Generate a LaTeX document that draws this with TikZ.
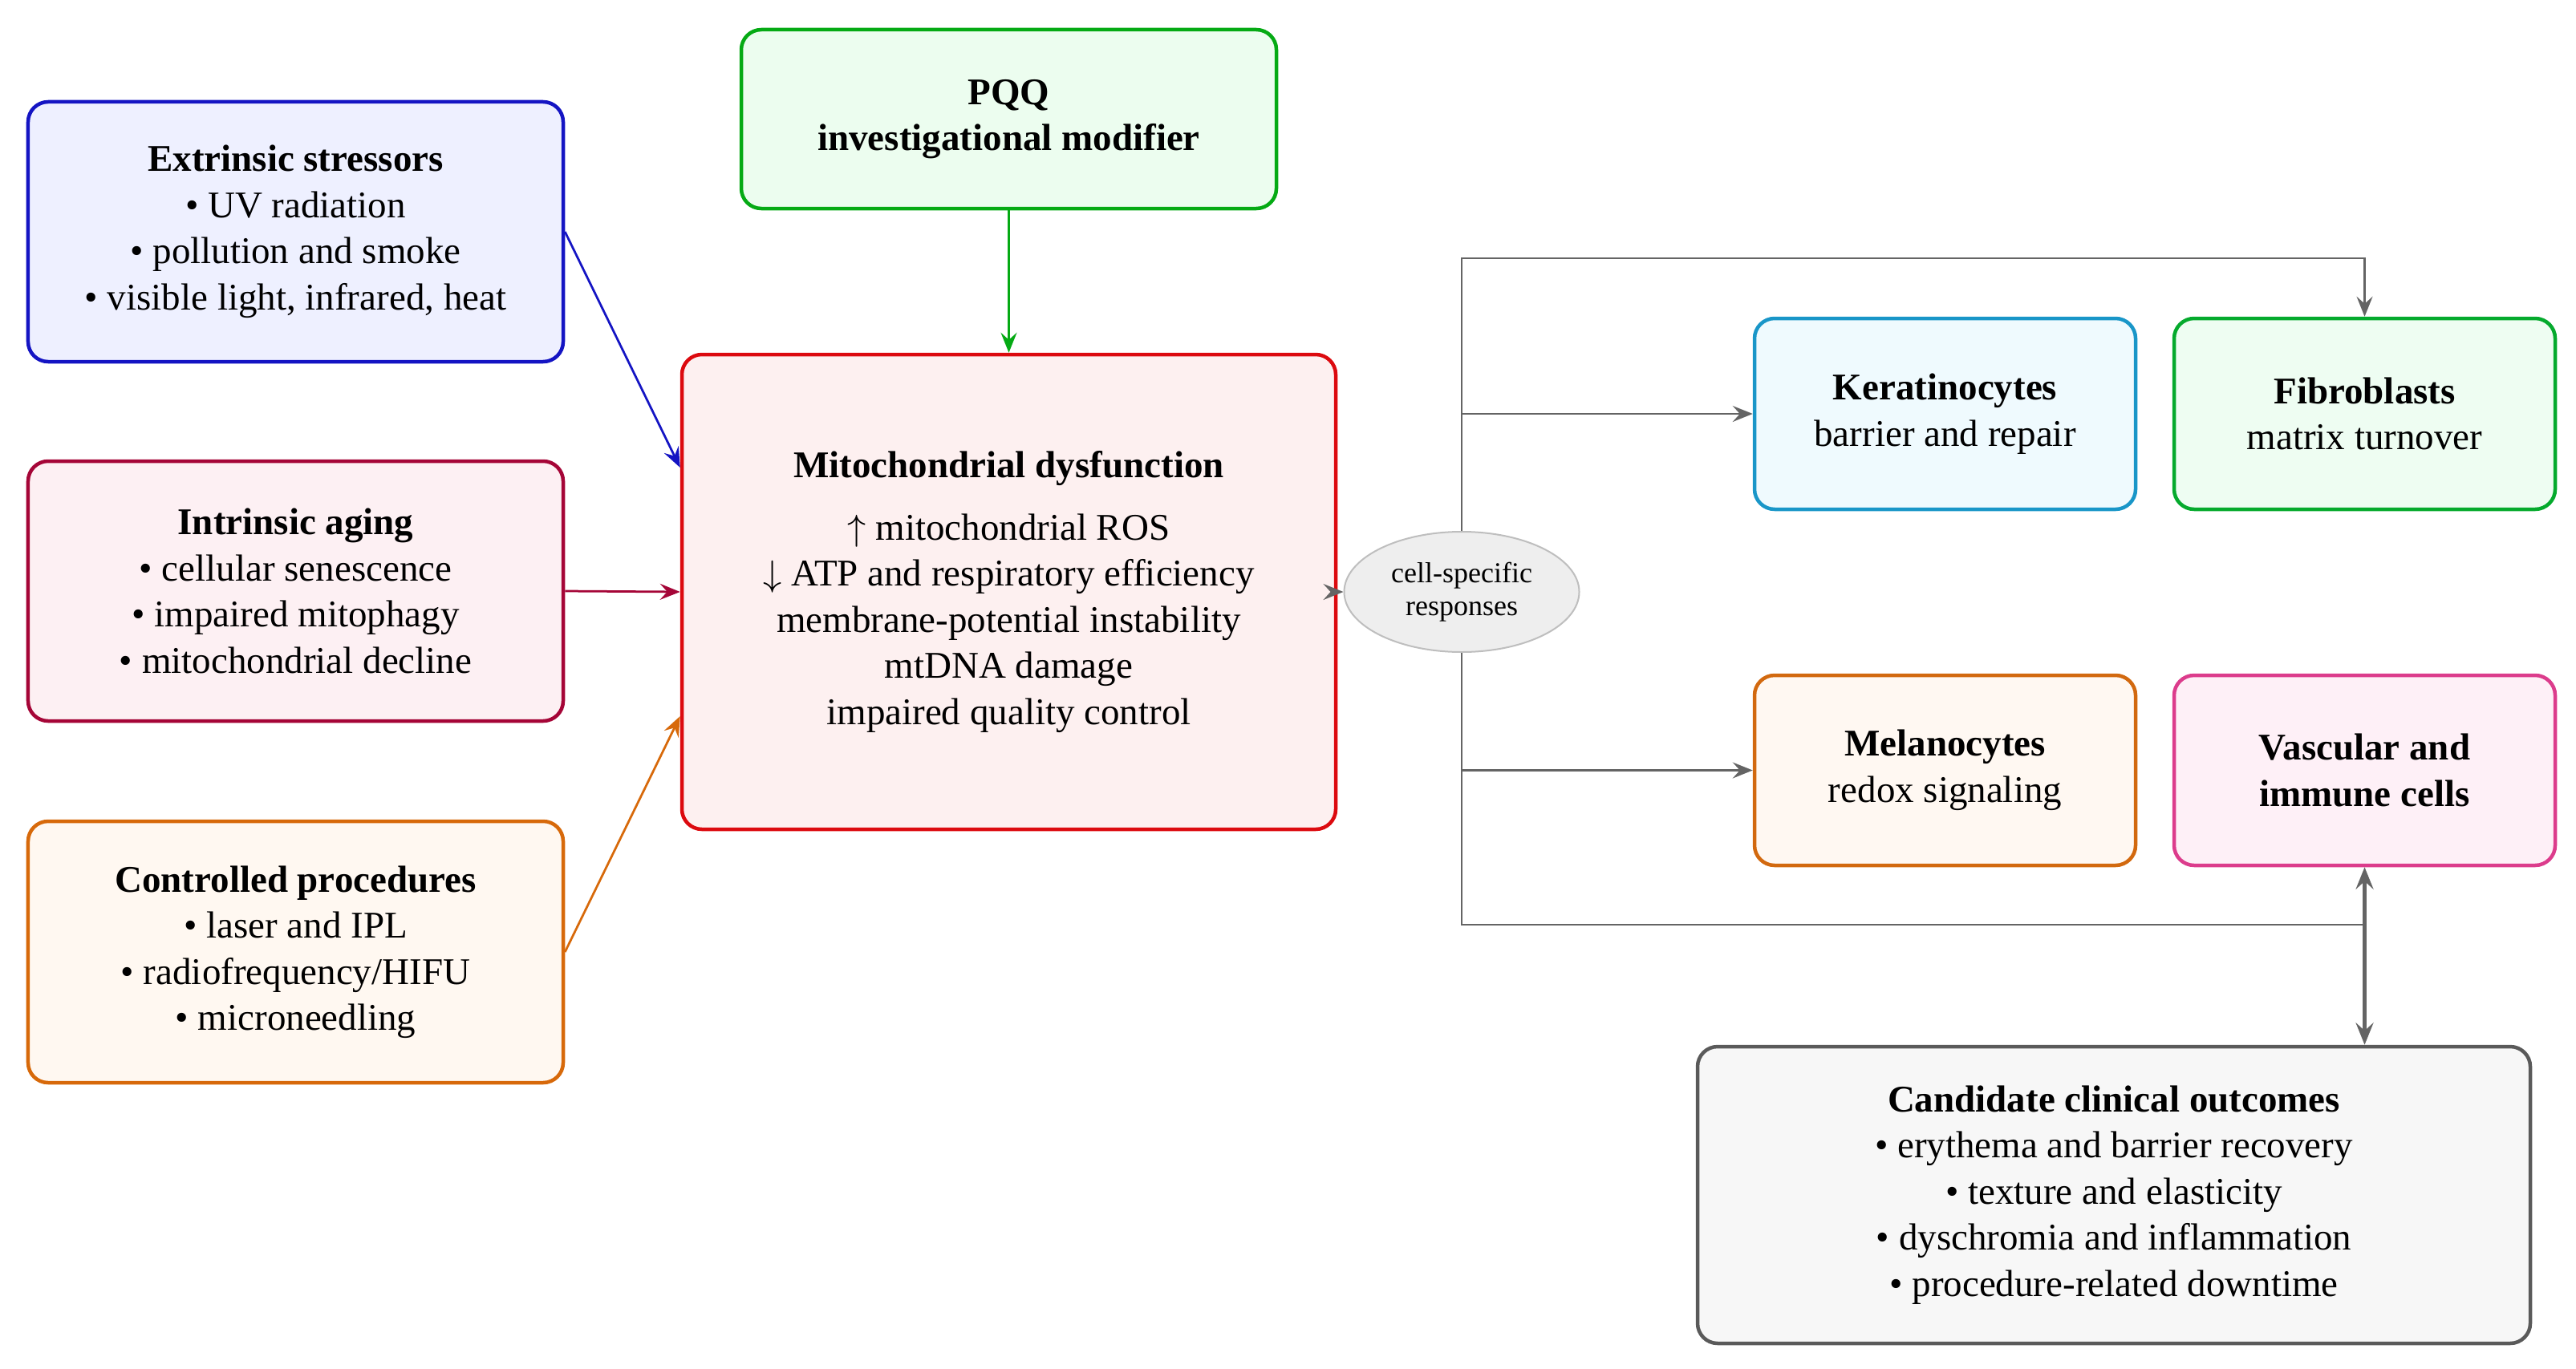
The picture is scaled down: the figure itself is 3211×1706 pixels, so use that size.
\documentclass[tikz,border=0pt]{standalone}
\usepackage{fontspec}
\setmainfont{Liberation Serif}
\usetikzlibrary{arrows.meta,shapes.geometric,calc}
\definecolor{extB}{RGB}{20,20,195}\definecolor{extF}{RGB}{238,240,255}
\definecolor{intB}{RGB}{165,5,55}\definecolor{intF}{RGB}{253,240,243}
\definecolor{ctrB}{RGB}{215,105,10}\definecolor{ctrF}{RGB}{255,248,241}
\definecolor{pqqB}{RGB}{5,170,20}\definecolor{pqqF}{RGB}{236,253,239}
\definecolor{mitB}{RGB}{220,10,15}\definecolor{mitF}{RGB}{253,240,240}
\definecolor{kerB}{RGB}{25,150,200}\definecolor{kerF}{RGB}{239,250,254}
\definecolor{fibB}{RGB}{5,170,45}\definecolor{fibF}{RGB}{238,253,242}
\definecolor{melB}{RGB}{210,105,15}\definecolor{melF}{RGB}{255,248,242}
\definecolor{vasB}{RGB}{220,60,140}\definecolor{vasF}{RGB}{254,240,247}
\definecolor{outB}{RGB}{90,90,90}\definecolor{outF}{RGB}{247,247,247}
\definecolor{ellF}{RGB}{238,238,238}\definecolor{ellB}{RGB}{190,190,190}
\definecolor{conn}{RGB}{100,100,100}
\begin{document}
\begin{tikzpicture}[x=0.2pt,y=-0.2pt,
  box/.style={draw, rounded corners=5pt, line width=0.9pt, align=center,
    font=\fontsize{9.4}{11.5}\selectfont, inner sep=0pt},
  tip/.style={-{Stealth[length=5pt,width=4pt,inset=1.8pt]}},
  colarrow/.style={tip, line width=0.55pt},
  grayline/.style={draw=conn, line width=0.45pt},
  grayarrow/.style={grayline, tip}]
\useasboundingbox (0,0) rectangle (3211,1706);

\node[box, draw=extB, fill=extF, minimum width=133.4pt, minimum height=64.8pt] (ext) at (368.5,289)
  {\textbf{Extrinsic stressors}\\ • UV radiation\\ • pollution and smoke\\ • visible light, infrared, heat};
\node[box, draw=intB, fill=intF, minimum width=133.4pt, minimum height=64.8pt] (intr) at (368.5,737)
  {\textbf{Intrinsic aging}\\ • cellular senescence\\ • impaired mitophagy\\ • mitochondrial decline};
\node[box, draw=ctrB, fill=ctrF, minimum width=133.4pt, minimum height=65.2pt] (ctrl) at (368.5,1187)
  {\textbf{Controlled procedures}\\ • laser and IPL\\ • radiofrequency/HIFU\\ • microneedling};
\node[box, draw=pqqB, fill=pqqF, minimum width=133.4pt, minimum height=44.6pt] (pqq) at (1257.5,148.5)
  {\textbf{PQQ}\\ \textbf{investigational modifier}};
\node[box, draw=mitB, fill=mitF, minimum width=163pt, minimum height=118.4pt] (mito) at (1257.5,738)
  {\textbf{Mitochondrial dysfunction}\\[4pt] $\uparrow$ mitochondrial ROS\\ $\downarrow$ ATP and respiratory efficiency\\ membrane-potential instability\\ mtDNA damage\\ impaired quality control};
\node[ellipse, draw=ellB, fill=ellF, line width=0.4pt, minimum width=58.6pt, minimum height=30pt, inner sep=0pt, align=center,
  font=\fontsize{7.2}{8.2}\selectfont] (ell) at (1822,738) {cell-specific\\ responses};
\node[box, draw=kerB, fill=kerF, minimum width=95pt, minimum height=47.6pt] (ker) at (2424.5,516)
  {\textbf{Keratinocytes}\\ barrier and repair};
\node[box, draw=fibB, fill=fibF, minimum width=95pt, minimum height=47.6pt] (fib) at (2947.5,516)
  {\textbf{Fibroblasts}\\ matrix turnover};
\node[box, draw=melB, fill=melF, minimum width=95pt, minimum height=47.4pt] (mel) at (2424.5,960.5)
  {\textbf{Melanocytes}\\ redox signaling};
\node[box, draw=vasB, fill=vasF, minimum width=95pt, minimum height=47.4pt] (vas) at (2947.5,960.5)
  {\textbf{Vascular and}\\ \textbf{immune cells}};
\node[box, draw=outB, fill=outF, minimum width=207.6pt, minimum height=74pt] (out) at (2635,1490)
  {\textbf{Candidate clinical outcomes}\\ • erythema and barrier recovery\\ • texture and elasticity\\ • dyschromia and inflammation\\ • procedure-related downtime};

% inputs to mitochondria
\draw[colarrow, extB] (ext.east) -- ($(mito.west)+(0,-155)$);
\draw[colarrow, intB] (intr.east) -- (mito.west);
\draw[colarrow, ctrB] (ctrl.east) -- ($(mito.west)+(0,155)$);
\draw[colarrow, pqqB] (pqq.south) -- (mito.north);
\draw[grayarrow] (mito.east) -- (ell.west);

% distribution tree
\coordinate (topc) at (1822,322);
\coordinate (botc) at (1822,1153);
\coordinate (kb) at (ell.north |- ker.west);
\coordinate (mb) at (ell.south |- mel.west);
\draw[grayarrow] (ell.north) -- (topc) -| (fib.north);
\draw[grayarrow] (kb) -- (ker.west);
\draw[grayarrow] (mb) -- (mel.west);
\draw[grayline] (ell.south) -- (botc) -- (botc -| vas.south);
\draw[draw=conn, line width=0.9pt, {Stealth[length=5.5pt,width=4.4pt,inset=2pt]}-{Stealth[length=5.5pt,width=4.4pt,inset=2pt]}]
  (vas.south) -- (vas.south |- out.north);
\end{tikzpicture}
\end{document}
